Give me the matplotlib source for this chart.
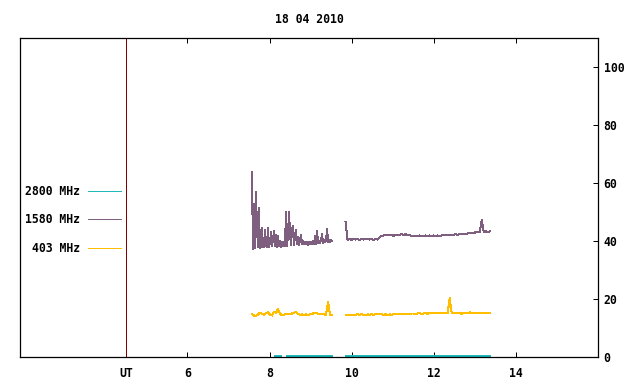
import numpy as np
import matplotlib
matplotlib.use('Agg')
import matplotlib.pyplot as plt

plt.rcParams['font.family'] = 'DejaVu Sans Mono'
plt.rcParams['font.weight'] = 'bold'
plt.rcParams['font.size'] = 8.3
plt.rcParams['lines.antialiased'] = False

title = '18 04 2010'
labels = ['2800 MHz', '1580 MHz', '403 MHz']
colors = ['#20b8b8', '#7f5f7f', '#ffbf00']

# time axis (UT hours)
x_ticks = [4.5, 6, 8, 10, 12, 14]
x_ticklabels = ['UT', '6', '8', '10', '12', '14']
y_ticks = [0, 20, 40, 60, 80, 100]

# 1580 MHz, first block, one sample per ~1.5 min from 7.57 UT
start_1580_a = 7.57
step_1580_a = 0.0244
flux_1580_a = [63.8, 37.3, 52.8, 37.5, 57.0, 45.0, 38.0, 51.5, 37.6, 38.0,
               44.6, 37.8, 38.1, 43.8, 38.2, 37.9, 44.6, 38.0, 39.5, 43.0,
               38.1, 40.5, 43.4, 38.2, 42.0, 38.0, 41.7, 38.3, 40.0, 38.0,
               39.5, 38.3, 39.8, 38.1, 50.1, 38.4, 42.0, 50.1, 42.7, 38.5,
               44.0, 45.2, 38.6, 42.0, 43.8, 38.8, 41.5, 38.7, 40.5, 42.0,
               38.9, 40.0, 38.8, 39.6, 38.9, 39.7, 38.7, 39.8, 39.0, 39.5,
               38.9, 40.0, 39.1, 41.7, 39.0, 43.4, 39.2, 40.0, 39.3, 40.2,
               42.3, 39.4, 40.3, 39.5, 40.0, 44.1, 39.6, 40.3, 39.7, 40.2,
               39.9]

# 1580 MHz, second block
start_1580_b = 9.85
step_1580_b = 0.0488
flux_1580_b = [46.5, 40.3, 40.8, 40.4, 40.7, 40.5, 40.6, 40.4, 40.7, 40.5,
               40.8, 40.6, 40.5, 40.7, 40.4, 40.6, 40.5, 41.2, 41.8, 41.9,
               42.0, 41.9, 42.0, 42.1, 41.8, 42.0, 41.9, 42.2, 42.3, 42.1,
               42.3, 42.2, 42.0, 41.7, 41.6, 41.8, 41.7, 41.9, 41.8, 41.7,
               41.9, 41.8, 41.9, 41.8, 41.9, 41.8, 41.9, 41.8, 41.9, 42.0,
               42.0, 42.2, 42.2, 42.2, 42.2, 42.3, 42.2, 42.3, 42.3, 42.4,
               42.5, 42.6, 42.7, 42.6, 42.8, 43.0, 43.2, 43.1, 47.2, 43.2,
               43.3, 43.2, 43.3]

# 403 MHz
start_403_a = 7.57
step_403_a = 0.0488
flux_403_a = [14.8, 14.3, 14.1, 14.6, 15.3, 14.9, 14.6, 15.1, 15.4, 14.6,
              14.3, 15.6, 15.2, 16.5, 14.8, 14.5, 14.6, 14.8, 14.7, 14.8,
              15.0, 15.3, 15.6, 14.9, 14.6, 14.7, 14.5, 14.7, 14.6, 14.7,
              14.9, 15.1, 15.3, 14.9, 14.7, 14.9, 14.7, 14.6, 19.1, 14.5,
              14.4]

start_403_b = 9.85
step_403_b = 0.0488
flux_403_b = [14.4, 14.4, 14.5, 14.5, 14.6, 14.6, 14.7, 14.6, 14.7, 14.6,
              14.5, 14.7, 14.6, 14.7, 14.6, 14.7, 14.7, 14.7, 14.7, 14.6,
              14.7, 14.5, 14.7, 14.6, 14.7, 14.7, 14.7, 14.7, 14.8, 14.7,
              14.9, 15.0, 14.9, 15.0, 15.0, 14.9, 15.0, 15.1, 14.9, 15.0,
              15.2, 14.9, 15.1, 15.0, 15.2, 15.0, 15.1, 15.0, 15.2, 15.1,
              15.0, 15.2, 20.3, 15.1, 15.2, 15.0, 15.1, 15.2, 14.9, 15.1,
              15.3, 15.2, 15.4, 15.1, 15.3, 15.2, 15.3, 15.0, 15.3, 15.2,
              15.1, 15.3, 15.2]

# 2800 MHz sits just above zero, in a few pieces
time_2800 = [8.12, 8.20, np.nan, 8.26, 8.28, np.nan, 8.42, 9.53, np.nan, 9.85, 13.37]
flux_2800 = [0.4, 0.4, np.nan, 0.4, 0.4, np.nan, 0.4, 0.4, np.nan, 0.4, 0.4]


def block(start, step, values):
    t = start + step * np.arange(len(values))
    return t, np.array(values)


fig = plt.figure(figsize=(6.4, 3.84), dpi=100)
ax = fig.add_axes([20 / 640, 27 / 384, 578 / 640, 319 / 384])

lw = 0.72
for start, step, vals in [(start_1580_a, step_1580_a, flux_1580_a),
                          (start_1580_b, step_1580_b, flux_1580_b)]:
    t, v = block(start, step, vals)
    ax.plot(t, v, color=colors[1], lw=lw)
for start, step, vals in [(start_403_a, step_403_a, flux_403_a),
                          (start_403_b, step_403_b, flux_403_b)]:
    t, v = block(start, step, vals)
    ax.plot(t, v, color=colors[2], lw=lw)
ax.plot(time_2800, flux_2800, color=colors[0], lw=1.1)

# UT marker line
ax.axvline(4.5, color='#7f0000', lw=0.72)

ax.set_xlim(1.92, 16)
ax.set_ylim(0, 110)
ax.set_xticks(x_ticks)
ax.set_xticklabels(x_ticklabels)
ax.set_yticks(y_ticks)
ax.yaxis.tick_right()
ax.tick_params(axis='x', direction='in', length=3.5, width=0.72, top=True, bottom=True, pad=7)
ax.tick_params(axis='y', direction='in', length=3.5, width=0.72, left=False, right=True, pad=4)
for s in ax.spines.values():
    s.set_linewidth(0.9)

fig.text(309 / 640, 1 - 19.5 / 384, title, ha='center', va='center')

# legend at the left, text before the line
leg_y = [0.519, 0.432, 0.341]
for lab, col, yy in zip(labels, colors, leg_y):
    ax.text(0.104, yy, lab, transform=ax.transAxes, ha='right', va='center')
    ax.plot([0.118, 0.174], [yy, yy], transform=ax.transAxes, color=col, lw=0.72)

fig.savefig('out.png', dpi=100)
